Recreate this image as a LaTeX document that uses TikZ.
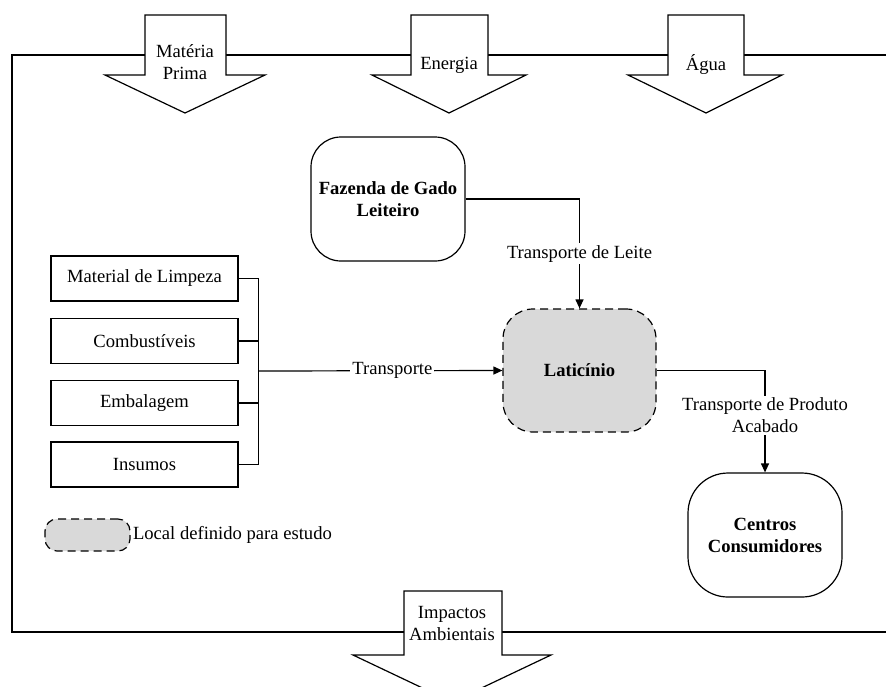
\documentclass[tikz,border=0pt]{standalone}
\usepackage{fontspec}
\setmainfont{Liberation Serif}
\usetikzlibrary{arrows.meta}
\definecolor{lightgrayfill}{HTML}{D9D9D9}
\begin{document}
\begin{tikzpicture}[x=0.5pt,y=-0.5pt, font=\fontsize{9.3}{11}\selectfont,
 line/.style={line width=0.6pt},
 conn/.style={line width=0.6pt, -{Triangle[length=4.5pt,width=4pt]}},
 boxnode/.style={draw, line width=0.6pt, minimum width=93.5pt, minimum height=22.5pt, inner sep=0pt},
 roundnode/.style={draw, line width=0.6pt, rounded corners=15pt, align=center, font=\fontsize{9.3}{11}\selectfont\bfseries, inner sep=0pt},
 blockarrow/.style={draw, fill=white, line width=0.6pt},
 lbl/.style={fill=white, inner sep=1pt, align=center},
 dashedge/.style={dash pattern=on 4pt off 2.5pt}]
\useasboundingbox (0,0) rectangle (886,686);
\clip (0,0) rectangle (886,686);
% frame
\draw[line] (886,55) -- (12,55) -- (12,632) -- (886,632);
% block arrows
\draw[blockarrow] (145,15) -- (226,15) -- (226,75) -- (265,75) -- (185,113) -- (105,75) -- (145,75) -- cycle;
\draw[blockarrow] (411,15) -- (488,15) -- (488,75) -- (526,75) -- (449,113) -- (372,75) -- (411,75) -- cycle;
\draw[blockarrow] (668,15) -- (744,15) -- (744,75) -- (782,75) -- (706,113) -- (628,75) -- (668,75) -- cycle;
\draw[blockarrow] (404,591) -- (502,591) -- (502,655) -- (551,655) -- (452,702) -- (353,655) -- (404,655) -- cycle;
\node[align=center] (mp) at (185,62) {Matéria\\Prima};
\node (en) at (449,65) {Energia};
\node (ag) at (706,65) {Água};
\node[align=center] (ia) at (452,623) {Impactos\\Ambientais};
% main nodes
\node[roundnode, minimum width=77pt, minimum height=62pt] (faz) at (388,199) {Fazenda de Gado\\Leiteiro};
\node[roundnode, dashedge, fill=lightgrayfill, minimum width=76.5pt, minimum height=61.5pt] (lat) at (579.5,370.5) {Laticínio};
\node[roundnode, rounded corners=20pt, minimum width=77pt, minimum height=62pt] (cen) at (765,535) {Centros\\Consumidores};
% left boxes
\node[boxnode] (b1) at (144.5,278.5) {Material de Limpeza};
\node[boxnode] (b2) at (144.5,341) {Combustíveis};
\node[boxnode] (b3) at (144.5,403) {Embalagem};
\node[boxnode] (b4) at (144.5,464.5) {Insumos};
\coordinate (br) at (258,371);
\draw[line] (b1.east) -- ++(20,0) |- (b4.east);
\draw[line] (b2.east) -- ++(20,0);
\draw[line] (b3.east) -- ++(20,0);
% connectors
\draw[conn] (br) -- node[lbl, pos=0.55] {Transporte} (lat.west);
\draw[conn] (faz.east) -| node[lbl, pos=0.75] {Transporte de Leite} (lat.north);
\draw[conn] (lat.east) -| node[lbl, pos=0.72] {Transporte de Produto\\Acabado} (cen.north);
% legend
\node[draw, line width=0.6pt, dashedge, fill=lightgrayfill, rounded corners=6pt, minimum width=42.5pt, minimum height=16pt, inner sep=0pt] (leg) at (87.5,535) {};
\node[anchor=west, inner sep=1pt] (legt) at (leg.east) {Local definido para estudo};
\end{tikzpicture}
\end{document}
